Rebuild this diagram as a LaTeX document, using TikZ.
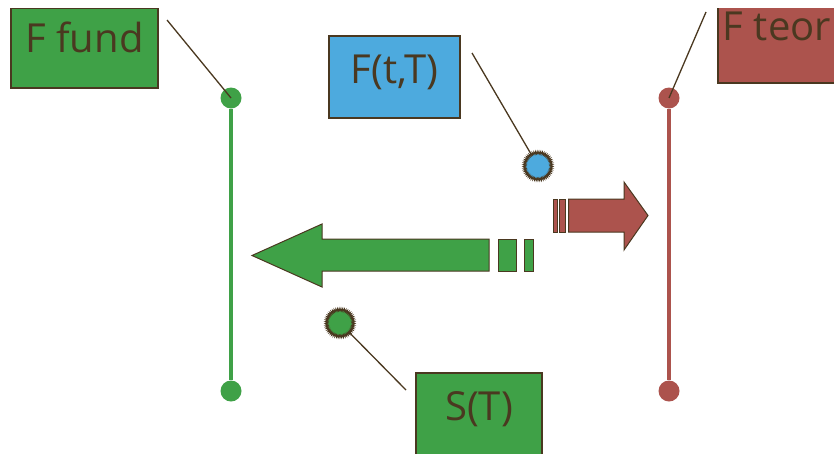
\documentclass[tikz,border=0pt]{standalone}
\usepackage{fontspec}
\setmainfont{Open Sans}
\usetikzlibrary{decorations.pathmorphing}

\definecolor{fundgreen}{RGB}{63,161,71}
\definecolor{fttblue}{RGB}{77,170,222}
\definecolor{teorred}{RGB}{172,83,77}
\definecolor{inkbrown}{RGB}{74,56,32}

\tikzset{
  pricebox/.style={rectangle,draw=inkbrown,line width=1.2pt,text=inkbrown,inner sep=0pt,
    text height=30pt,font=\fontsize{40}{48}\selectfont},
  gear/.style={circle,inner sep=0pt,minimum size=27pt,draw=inkbrown,line width=1pt,
    postaction={draw=inkbrown,line width=0.9pt,decorate,
      decoration={zigzag,segment length=1.6pt,amplitude=1.3pt}}},
  enddot/.style={circle,inner sep=0pt,minimum size=21pt},
  shapeline/.style={draw=inkbrown,line width=1pt,line join=miter}
}

\begin{document}
\begin{tikzpicture}[x=1pt,y=-1pt]
\useasboundingbox (0,0) rectangle (834,453);
\clip (0,8) rectangle (834,453);

\begin{scope}[every node/.style={pricebox}]
    \node[fill=fundgreen,minimum width=147pt,minimum height=80pt,text depth=22pt] (ffund) at (84.5,48) {F fund};
    \node[fill=fttblue,minimum width=131pt,minimum height=82pt,text depth=18pt] (ftt) at (394.5,77) {F(t,T)};
    \node[fill=fundgreen,minimum width=126pt,minimum height=82pt,text depth=18pt] (st) at (479,414) {S(T)};
    \node[fill=teorred,minimum width=118pt,minimum height=82pt,text depth=34pt] (fteor) at (777,42) {F teor};
\end{scope}

\begin{scope}[every node/.style={enddot}]
    \node[fill=fundgreen] (fundtop) at (231,98) {};
    \node[fill=fundgreen] (fundbot) at (231,391) {};
    \node[fill=teorred] (teortop) at (669,98) {};
    \node[fill=teorred] (teorbot) at (669,391) {};
\end{scope}
\draw[fundgreen,line width=4pt] (fundtop) -- (fundbot);
\draw[teorred,line width=4pt] (teortop) -- (teorbot);

\node[gear,fill=fttblue] (fttgear) at (538,166) {};
\node[gear,fill=fundgreen] (stgear) at (340,323) {};

\coordinate (ffundend) at (167,20);
\coordinate (fttend) at (472,53);
\coordinate (stend) at (406,390);
\coordinate (fteorend) at (706,12);

\begin{scope}[every edge/.style={draw=inkbrown,line width=1.3pt}]
    \path (ffundend) edge (fundtop.center);
    \path (fttend) edge (fttgear);
    \path (stgear) edge (stend);
    \path (fteorend) edge (teortop.center);
\end{scope}

\draw[shapeline,fill=fundgreen] (252,255.5) -- (322,224) -- (322,239) -- (489,239)
    -- (489,271) -- (322,271) -- (322,287) -- cycle;
\draw[shapeline,fill=fundgreen] (498,239) rectangle (516,271);
\draw[shapeline,fill=fundgreen] (524,239) rectangle (533,271);

\draw[shapeline,fill=teorred] (648,215.5) -- (624,182) -- (624,199) -- (568.5,199)
    -- (568.5,232) -- (624,232) -- (624,250) -- cycle;
\draw[shapeline,fill=teorred] (553.5,199) rectangle (557,232);
\draw[shapeline,fill=teorred] (559.5,199) rectangle (565.5,232);
\end{tikzpicture}
\end{document}
